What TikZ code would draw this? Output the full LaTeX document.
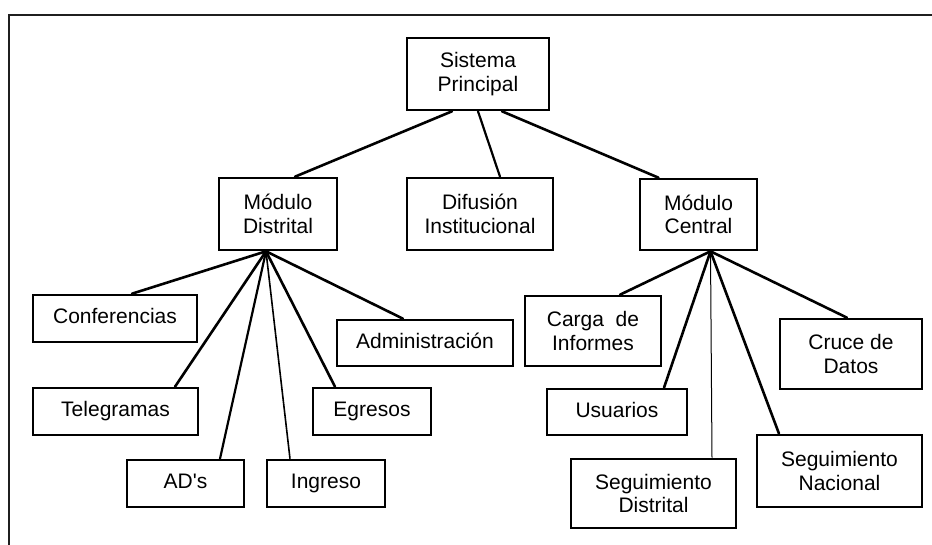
\documentclass[tikz,border=0pt]{standalone}
\usepackage{fontspec}
\setmainfont{Liberation Sans}
\begin{document}
\begin{tikzpicture}[x=1pt,y=-1pt,
  box/.style={draw=black,line width=2.6pt,inner sep=0pt,align=center,
    font=\fontsize{21}{23.5}\selectfont},
  oneline/.style={text height=15pt,text depth=4.5pt},
  link/.style={line width=2.6pt,line cap=round},
  thinlink/.style={line width=1.6pt},
  hairlink/.style={line width=1pt}]
\useasboundingbox (0,0) rectangle (932,544);
\begin{scope}
\clip (0,0) rectangle (932,544);
\draw[line width=2.6pt,color=black!88] (9,15) rectangle (960,580);
\end{scope}

% top level
\node[box,minimum width=142pt,minimum height=72pt] (sp) at (478,74) {Sistema\\Principal};

% second level
\node[box,minimum width=118pt,minimum height=72pt] (md) at (278,214) {Módulo\\Distrital};
\node[box,minimum width=146pt,minimum height=72pt] (di) at (480,214) {Difusión\\Institucional};
\node[box,minimum width=117pt,minimum height=71pt] (mc) at (698.5,214.5) {Módulo\\Central};

% children of Módulo Distrital
\node[box,oneline,minimum width=164pt,minimum height=47pt] (conf) at (115,318.5) {Conferencias};
\node[box,oneline,minimum width=176pt,minimum height=46pt] (adm) at (425,343) {Administración};
\node[box,oneline,minimum width=165pt,minimum height=47pt] (tel) at (115.5,411.5) {Telegramas};
\node[box,oneline,minimum width=118pt,minimum height=47pt] (egr) at (372,411.5) {Egresos};
\node[box,oneline,minimum width=117pt,minimum height=47pt] (ads) at (185.5,483.5) {AD\textquotesingle s};
\node[box,oneline,minimum width=118pt,minimum height=47pt] (ing) at (326,483.5) {Ingreso};

% children of Módulo Central
\node[box,minimum width=136pt,minimum height=70pt] (carga) at (593,331) {Carga\ \ de\\Informes};
\node[box,oneline,minimum width=140pt,minimum height=46pt] (usu) at (617,412) {Usuarios};
\node[box,minimum width=165pt,minimum height=69pt] (segd) at (653.5,493.5) {Seguimiento\\Distrital};
\node[box,minimum width=142pt,minimum height=70pt] (cruce) at (851,354) {Cruce de\\Datos};
\node[box,minimum width=165pt,minimum height=72pt] (segn) at (839.5,471) {Seguimiento\\Nacional};

% connectors from the top box
\draw[link] ([xshift=-26pt]sp.south) -- ([xshift=17pt]md.north);
\draw[link,line width=2.2pt] (sp.south) -- ([xshift=20pt]di.north);
\draw[link] ([xshift=24pt]sp.south) -- ([xshift=-40pt]mc.north);

% fan below Módulo Distrital
\coordinate (mdhub) at ([xshift=-12pt]md.south);
\draw[link] (mdhub) -- ([xshift=17pt]conf.north);
\draw[link] (mdhub) -- ([xshift=59.5pt]tel.north);
\draw[link,line width=2.2pt] (mdhub) -- ([xshift=34.5pt]ads.north);
\draw[thinlink] (mdhub) -- ([xshift=-36pt]ing.north);
\draw[link] (mdhub) -- ([xshift=-37pt]egr.north);
\draw[link] (mdhub) -- ([xshift=-22pt]adm.north);

% fan below Módulo Central
\coordinate (mchub) at ([xshift=12pt]mc.south);
\draw[link] (mchub) -- ([xshift=27pt]carga.north);
\draw[link] (mchub) -- ([xshift=47pt]usu.north);
\draw[hairlink] (mchub) -- ([xshift=58.5pt]segd.north);
\draw[link] (mchub) -- ([xshift=-60.5pt]segn.north);
\draw[link] (mchub) -- ([xshift=-4pt]cruce.north);
\end{tikzpicture}
\end{document}
